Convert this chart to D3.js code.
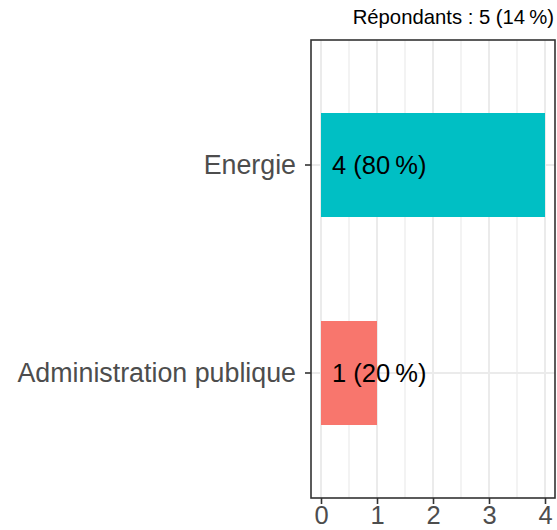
<!DOCTYPE html>
<html>
<head>
<meta charset="utf-8">
<script src="https://cdn.jsdelivr.net/npm/d3@7"></script>
<style>
  html, body { margin: 0; padding: 0; background: #fff; }
  svg { display: block; font-family: "Liberation Sans", Arial, sans-serif; }
</style>
</head>
<body>
<svg id="chart" width="557" height="530"></svg>
<script>
const categories = ["Energie", "Administration publique"];
const counts = [4, 1];
const labels = ["4 (80\u202F%)", "1 (20\u202F%)"];
const barColors = ["#00BFC4", "#F8766D"];
const xTicks = [0, 1, 2, 3, 4];
const xMinor = [0.5, 1.5, 2.5, 3.5];
const titleText = "Répondants : 5 (14\u202F%)";

const svg = d3.select("#chart");
const panel = { left: 311, right: 555, top: 40, bottom: 498 };

const x = d3.scaleLinear().domain([0, 4]).range([321, 545]);
const y = d3.scaleBand().domain(categories)
  .range([panel.top, panel.bottom]).paddingInner(0.5).paddingOuter(0.351);

svg.append("rect").attr("x", panel.left).attr("y", panel.top)
  .attr("width", panel.right - panel.left).attr("height", panel.bottom - panel.top)
  .attr("fill", "#fff");

svg.selectAll("line.minor").data(xMinor).join("line")
  .attr("x1", d => x(d)).attr("x2", d => x(d))
  .attr("y1", panel.top).attr("y2", panel.bottom)
  .attr("stroke", "#ebebeb").attr("stroke-width", 1.2);
svg.selectAll("line.major").data(xTicks).join("line")
  .attr("x1", d => x(d)).attr("x2", d => x(d))
  .attr("y1", panel.top).attr("y2", panel.bottom)
  .attr("stroke", "#ebebeb").attr("stroke-width", 2);
svg.selectAll("line.hgrid").data(categories).join("line")
  .attr("x1", panel.left).attr("x2", panel.right)
  .attr("y1", d => y(d) + y.bandwidth() / 2).attr("y2", d => y(d) + y.bandwidth() / 2)
  .attr("stroke", "#ebebeb").attr("stroke-width", 2);

svg.selectAll("rect.bar").data(categories).join("rect")
  .attr("x", x(0)).attr("y", d => y(d))
  .attr("width", (d, i) => x(counts[i]) - x(0))
  .attr("height", y.bandwidth())
  .attr("fill", (d, i) => barColors[i]);

svg.selectAll("text.blabel").data(categories).join("text")
  .attr("x", x(0) + 11).attr("y", d => y(d) + y.bandwidth() / 2)
  .attr("dy", "0.35em")
  .attr("font-size", "25.5px").attr("fill", "#000")
  .text((d, i) => labels[i]);

svg.append("rect").attr("x", panel.left).attr("y", panel.top)
  .attr("width", panel.right - panel.left).attr("height", panel.bottom - panel.top)
  .attr("fill", "none").attr("stroke", "#333").attr("stroke-width", 1.6);

const yAxis = svg.append("g").attr("transform", `translate(${panel.left},0)`)
  .call(d3.axisLeft(y).tickSize(6).tickPadding(9));
yAxis.select(".domain").remove();
yAxis.selectAll(".tick line").attr("stroke", "#333").attr("stroke-width", 1.6);
yAxis.selectAll(".tick text").attr("font-size", "26.8px").attr("fill", "#4d4d4d")
  .attr("font-family", "Liberation Sans, Arial, sans-serif").attr("dy", "0.35em");

const xAxis = svg.append("g").attr("transform", `translate(0,${panel.bottom})`)
  .call(d3.axisBottom(x).tickValues(xTicks).tickFormat(d3.format("d")).tickSize(6).tickPadding(2));
xAxis.select(".domain").remove();
xAxis.selectAll(".tick line").attr("stroke", "#333").attr("stroke-width", 1.6);
xAxis.selectAll(".tick text").attr("font-size", "25.5px").attr("fill", "#4d4d4d")
  .attr("font-family", "Liberation Sans, Arial, sans-serif");

svg.append("text").attr("x", 554).attr("y", 24).attr("text-anchor", "end")
  .attr("font-size", "20.3px").attr("fill", "#000").text(titleText);
</script>
</body>
</html>
